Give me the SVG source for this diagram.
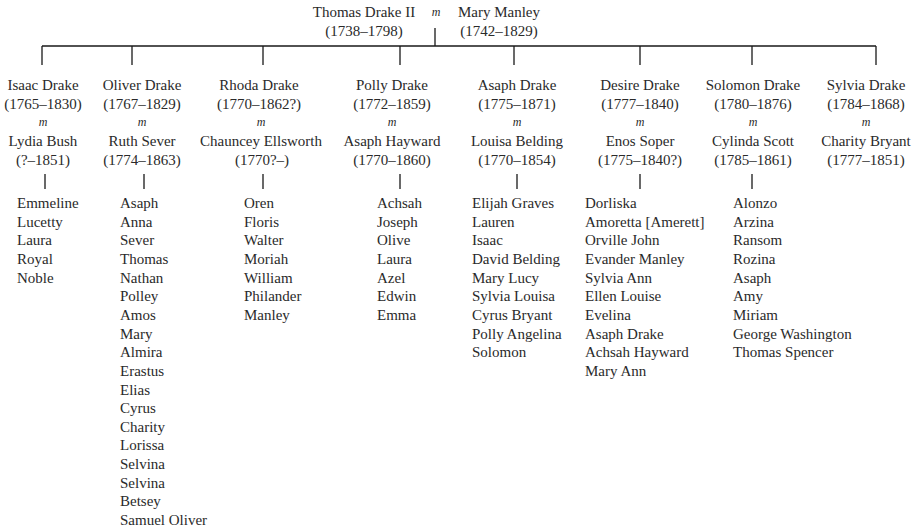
<svg xmlns="http://www.w3.org/2000/svg" width="919" height="528" viewBox="0 0 919 528">
<style>
text{font-family:"Liberation Serif","Times New Roman",serif;font-size:15px;fill:#2a2a2a}
.c{text-anchor:middle}
.m{font-style:italic;font-size:12px;text-anchor:middle}
.ln{stroke:#1a1a1a;stroke-width:1.3;fill:none}
</style>
<rect width="919" height="528" fill="#fff"/>
<g id="connectors" class="ln">
<path d="M435 28V46M42 46H876"/>
<path d="M42 46V65M132 46V65M263 46V65M400 46V65M514 46V65M640 46V65M752 46V65M876 46V65"/>
<path d="M45 174V189M144 174V189M263 174V189M400 174V189M517 174V189M640 174V189M752 174V189"/>
</g>
<g id="parents">
<text class="c" x="364" y="17">Thomas Drake II</text>
<text class="c" x="364" y="36">(1738–1798)</text>
<text class="m" x="436" y="16">m</text>
<text class="c" x="499" y="17">Mary Manley</text>
<text class="c" x="499" y="36">(1742–1829)</text>
</g>
<g id="isaac">
<text class="c" x="43" y="90">Isaac Drake</text>
<text class="c" x="43" y="109">(1765–1830)</text>
<text class="m" x="43" y="126">m</text>
<text class="c" x="43" y="146">Lydia Bush</text>
<text class="c" x="43" y="165">(?–1851)</text>
</g>
<g id="isaac-children"><text x="17" y="208"><tspan x="17">Emmeline</tspan><tspan x="17" dy="18.65">Lucetty</tspan><tspan x="17" dy="18.65">Laura</tspan><tspan x="17" dy="18.65">Royal</tspan><tspan x="17" dy="18.65">Noble</tspan></text></g>
<g id="oliver">
<text class="c" x="142" y="90">Oliver Drake</text>
<text class="c" x="142" y="109">(1767–1829)</text>
<text class="m" x="142" y="126">m</text>
<text class="c" x="142" y="146">Ruth Sever</text>
<text class="c" x="142" y="165">(1774–1863)</text>
</g>
<g id="oliver-children"><text x="120" y="208"><tspan x="120">Asaph</tspan><tspan x="120" dy="18.65">Anna</tspan><tspan x="120" dy="18.65">Sever</tspan><tspan x="120" dy="18.65">Thomas</tspan><tspan x="120" dy="18.65">Nathan</tspan><tspan x="120" dy="18.65">Polley</tspan><tspan x="120" dy="18.65">Amos</tspan><tspan x="120" dy="18.65">Mary</tspan><tspan x="120" dy="18.65">Almira</tspan><tspan x="120" dy="18.65">Erastus</tspan><tspan x="120" dy="18.65">Elias</tspan><tspan x="120" dy="18.65">Cyrus</tspan><tspan x="120" dy="18.65">Charity</tspan><tspan x="120" dy="18.65">Lorissa</tspan><tspan x="120" dy="18.65">Selvina</tspan><tspan x="120" dy="18.65">Selvina</tspan><tspan x="120" dy="18.65">Betsey</tspan><tspan x="120" dy="18.65">Samuel Oliver</tspan></text></g>
<g id="rhoda">
<text class="c" x="259" y="90">Rhoda Drake</text>
<text class="c" x="259" y="109">(1770–1862?)</text>
<text class="m" x="261" y="126">m</text>
<text class="c" x="261" y="146">Chauncey Ellsworth</text>
<text class="c" x="262" y="165">(1770?–)</text>
</g>
<g id="rhoda-children"><text x="244" y="208"><tspan x="244">Oren</tspan><tspan x="244" dy="18.65">Floris</tspan><tspan x="244" dy="18.65">Walter</tspan><tspan x="244" dy="18.65">Moriah</tspan><tspan x="244" dy="18.65">William</tspan><tspan x="244" dy="18.65">Philander</tspan><tspan x="244" dy="18.65">Manley</tspan></text></g>
<g id="polly">
<text class="c" x="392" y="90">Polly Drake</text>
<text class="c" x="392" y="109">(1772–1859)</text>
<text class="m" x="392" y="126">m</text>
<text class="c" x="392" y="146">Asaph Hayward</text>
<text class="c" x="392" y="165">(1770–1860)</text>
</g>
<g id="polly-children"><text x="377" y="208"><tspan x="377">Achsah</tspan><tspan x="377" dy="18.65">Joseph</tspan><tspan x="377" dy="18.65">Olive</tspan><tspan x="377" dy="18.65">Laura</tspan><tspan x="377" dy="18.65">Azel</tspan><tspan x="377" dy="18.65">Edwin</tspan><tspan x="377" dy="18.65">Emma</tspan></text></g>
<g id="asaph">
<text class="c" x="517" y="90">Asaph Drake</text>
<text class="c" x="517" y="109">(1775–1871)</text>
<text class="m" x="517" y="126">m</text>
<text class="c" x="517" y="146">Louisa Belding</text>
<text class="c" x="517" y="165">(1770–1854)</text>
</g>
<g id="asaph-children"><text x="472" y="208"><tspan x="472">Elijah Graves</tspan><tspan x="472" dy="18.65">Lauren</tspan><tspan x="472" dy="18.65">Isaac</tspan><tspan x="472" dy="18.65">David Belding</tspan><tspan x="472" dy="18.65">Mary Lucy</tspan><tspan x="472" dy="18.65">Sylvia Louisa</tspan><tspan x="472" dy="18.65">Cyrus Bryant</tspan><tspan x="472" dy="18.65">Polly Angelina</tspan><tspan x="472" dy="18.65">Solomon</tspan></text></g>
<g id="desire">
<text class="c" x="640" y="90">Desire Drake</text>
<text class="c" x="640" y="109">(1777–1840)</text>
<text class="m" x="640" y="126">m</text>
<text class="c" x="640" y="146">Enos Soper</text>
<text class="c" x="640" y="165">(1775–1840?)</text>
</g>
<g id="desire-children"><text x="585" y="208"><tspan x="585">Dorliska</tspan><tspan x="585" dy="18.65">Amoretta [Amerett]</tspan><tspan x="585" dy="18.65">Orville John</tspan><tspan x="585" dy="18.65">Evander Manley</tspan><tspan x="585" dy="18.65">Sylvia Ann</tspan><tspan x="585" dy="18.65">Ellen Louise</tspan><tspan x="585" dy="18.65">Evelina</tspan><tspan x="585" dy="18.65">Asaph Drake</tspan><tspan x="585" dy="18.65">Achsah Hayward</tspan><tspan x="585" dy="18.65">Mary Ann</tspan></text></g>
<g id="solomon">
<text class="c" x="753" y="90">Solomon Drake</text>
<text class="c" x="753" y="109">(1780–1876)</text>
<text class="m" x="753" y="126">m</text>
<text class="c" x="753" y="146">Cylinda Scott</text>
<text class="c" x="753" y="165">(1785–1861)</text>
</g>
<g id="solomon-children"><text x="733" y="208"><tspan x="733">Alonzo</tspan><tspan x="733" dy="18.65">Arzina</tspan><tspan x="733" dy="18.65">Ransom</tspan><tspan x="733" dy="18.65">Rozina</tspan><tspan x="733" dy="18.65">Asaph</tspan><tspan x="733" dy="18.65">Amy</tspan><tspan x="733" dy="18.65">Miriam</tspan><tspan x="733" dy="18.65">George Washington</tspan><tspan x="733" dy="18.65">Thomas Spencer</tspan></text></g>
<g id="sylvia">
<text class="c" x="866" y="90">Sylvia Drake</text>
<text class="c" x="866" y="109">(1784–1868)</text>
<text class="m" x="866" y="126">m</text>
<text class="c" x="866" y="146">Charity Bryant</text>
<text class="c" x="866" y="165">(1777–1851)</text>
</g>
</svg>
